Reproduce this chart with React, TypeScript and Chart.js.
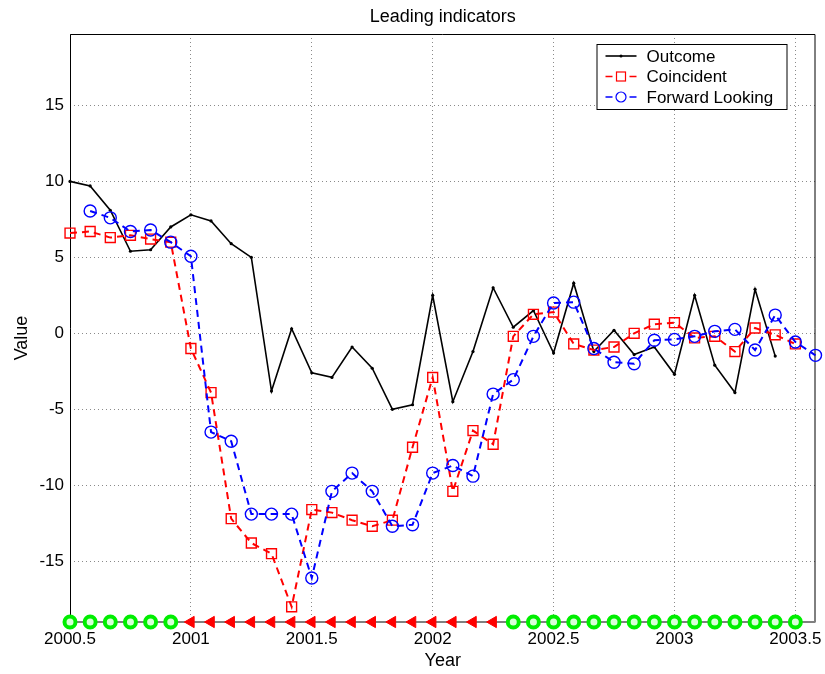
import React, { useEffect, useRef } from "react";
import { Chart, registerables } from "chart.js";

Chart.register(...registerables);

// ---- data ----
const START_YEAR = 2000.5; // first monthly observation
const MONTHS_PER_YEAR = 12;

const outcome = [
  10.0, 9.7, 8.1, 5.4, 5.5, 7.0, 7.8, 7.4, 5.9, 5.0, -3.8, 0.3, -2.6, -2.9, -0.9, -2.3,
  -5.0, -4.7, 2.5, -4.5, -1.2, 3.0, 0.4, 1.5, -1.3, 3.3, -1.2, 0.2, -1.4, -0.9, -2.7, 2.5,
  -2.1, -3.9, 2.9, -1.5,
];

const coincident = [
  6.6, 6.7, 6.3, 6.45, 6.2, 6.0, -1.0, -3.9, -12.2, -13.8, -14.5, -18.0, -11.6, -11.8, -12.3,
  -12.7, -12.3, -7.5, -2.9, -10.4, -6.4, -7.3, -0.2, 1.25, 1.4, -0.7, -1.1, -0.9, 0.0, 0.6, 0.7,
  -0.3, -0.2, -1.2, 0.35, -0.1, -0.7,
];

const forwardLooking = [
  null, 8.05, 7.6, 6.7, 6.8, 6.0, 5.07, -6.5, -7.1, -11.9, -11.9, -11.9, -16.1, -10.4, -9.2,
  -10.4, -12.7, -12.6, -9.2, -8.7, -9.4, -4.0, -3.05, -0.2, 2.0, 2.05, -1.0, -1.9, -2.0, -0.46,
  -0.4, -0.2, 0.13, 0.26, -1.1, 1.2, -0.57, -1.45,
];

// 1 = green circle (expansion), 0 = red triangle (contraction)
const regimeSignal = [
  1, 1, 1, 1, 1, 1,
  0, 0, 0, 0, 0, 0, 0, 0, 0, 0, 0, 0, 0, 0, 0, 0,
  1, 1, 1, 1, 1, 1, 1, 1, 1, 1, 1, 1, 1, 1, 1,
];
const SIGNAL_LEVEL = -19;

const xTicks = [2000.5, 2001, 2001.5, 2002, 2002.5, 2003, 2003.5];
const yTicks = [-15, -10, -5, 0, 5, 10, 15];
const X_MIN = 2000.5;
const X_MAX = 2003.5833;
const Y_MIN = -19;
const Y_MAX = 19.7;

const TITLE = "Leading indicators";
const X_LABEL = "Year";
const Y_LABEL = "Value";

const FONT = "'Liberation Sans', Arial, Helvetica, sans-serif";

const toPoints = (values: (number | null)[]) =>
  values
    .map((v, i) => (v === null ? null : { x: START_YEAR + i / MONTHS_PER_YEAR, y: v }))
    .filter((p) => p !== null) as { x: number; y: number }[];

const GREEN = "#00ee00";
const RED = "#ff0000";
const BLUE = "#0000ff";

const framePlugin = {
  id: "frame",
  beforeDatasetsDraw(chart: any) {
    const { ctx, chartArea: a } = chart;
    ctx.save();
    ctx.strokeStyle = "#000";
    ctx.lineWidth = 1;
    ctx.beginPath();
    ctx.moveTo(a.left + 0.5, a.bottom);
    ctx.lineTo(a.left + 0.5, a.top + 0.5);
    ctx.lineTo(a.right - 0.5, a.top + 0.5);
    ctx.lineTo(a.right - 0.5, a.bottom);
    ctx.stroke();
    ctx.strokeStyle = "#808080";
    ctx.lineWidth = 2;
    ctx.beginPath();
    ctx.moveTo(a.left, a.bottom);
    ctx.lineTo(a.right, a.bottom);
    ctx.stroke();
    ctx.restore();
  },
  afterDraw(chart: any) {
    const { ctx, chartArea: a } = chart;
    ctx.save();
    // title
    ctx.fillStyle = "#000";
    ctx.font = `18px ${FONT}`;
    ctx.textAlign = "center";
    ctx.textBaseline = "middle";
    ctx.fillText(TITLE, (a.left + a.right) / 2, 17);
    // x label
    ctx.fillText(X_LABEL, (a.left + a.right) / 2, 661);
    // y label
    ctx.save();
    ctx.translate(22, 338);
    ctx.rotate(-Math.PI / 2);
    ctx.fillText(Y_LABEL, 0, 0);
    ctx.restore();

    // legend
    const bx = a.right - 219;
    const by = a.top + 10;
    const bw = 190;
    const bh = 65;
    ctx.fillStyle = "#fff";
    ctx.fillRect(bx, by, bw, bh);
    ctx.strokeStyle = "#000";
    ctx.lineWidth = 1;
    ctx.strokeRect(bx + 0.5, by + 0.5, bw, bh);
    const ds = chart.data.datasets;
    const rows = [0, 1, 2];
    rows.forEach((di, r) => {
      const d = ds[di];
      const y = by + 12 + r * 20.5;
      const x0 = bx + 9;
      const x1 = bx + 40;
      ctx.strokeStyle = d.borderColor;
      ctx.lineWidth = d.legendLineWidth;
      ctx.setLineDash(d.borderDash || []);
      ctx.beginPath();
      ctx.moveTo(x0, y);
      ctx.lineTo(x1, y);
      ctx.stroke();
      ctx.setLineDash([]);
      const mx = (x0 + x1) / 2;
      ctx.lineWidth = 1.2;
      if (d.pointStyle === "rect") {
        ctx.fillStyle = "#fff";
        ctx.fillRect(mx - 4.5, y - 4.5, 9, 9);
        ctx.strokeRect(mx - 4.5, y - 4.5, 9, 9);
      } else if (d.pointStyle === "circle" && di === 2) {
        ctx.fillStyle = "#fff";
        ctx.beginPath();
        ctx.arc(mx, y, 5, 0, Math.PI * 2);
        ctx.fill();
        ctx.stroke();
      } else {
        ctx.fillStyle = d.borderColor;
        ctx.beginPath();
        ctx.arc(mx, y, 1.5, 0, Math.PI * 2);
        ctx.fill();
      }
      ctx.fillStyle = "#000";
      ctx.font = `17px ${FONT}`;
      ctx.textAlign = "left";
      ctx.textBaseline = "middle";
      ctx.fillText(d.label, bx + 50, y + 1);
    });
    ctx.restore();
  },
};

export default function App() {
  const ref = useRef<HTMLCanvasElement | null>(null);

  useEffect(() => {
    document.body.style.margin = "0";
    const canvas = ref.current;
    if (!canvas) return;

    const signalPoints = regimeSignal.map((s, i) => ({
      x: START_YEAR + i / MONTHS_PER_YEAR,
      y: SIGNAL_LEVEL,
    }));

    const chart = new Chart(canvas, {
      type: "scatter",
      data: {
        datasets: [
          {
            label: "Outcome",
            data: toPoints(outcome),
            showLine: true,
            borderColor: "#000",
            backgroundColor: "#000",
            borderWidth: 1.6,
            legendLineWidth: 1.6,
            pointStyle: "circle",
            pointRadius: 1.6,
            pointBorderWidth: 0,
            tension: 0,
            clip: false,
            order: 3,
          } as any,
          {
            label: "Coincident",
            data: toPoints(coincident),
            showLine: true,
            borderColor: RED,
            backgroundColor: "transparent",
            borderWidth: 2,
            legendLineWidth: 1.5,
            borderDash: [7, 5],
            pointStyle: "rect",
            pointRadius: 7,
            pointBorderWidth: 1.4,
            pointBorderColor: RED,
            pointBackgroundColor: "transparent",
            tension: 0,
            clip: false,
            order: 2,
          } as any,
          {
            label: "Forward Looking",
            data: toPoints(forwardLooking),
            showLine: true,
            borderColor: BLUE,
            backgroundColor: "transparent",
            borderWidth: 2,
            legendLineWidth: 1.5,
            borderDash: [7, 5],
            pointStyle: "circle",
            pointRadius: 6,
            pointBorderWidth: 1.4,
            pointBorderColor: BLUE,
            pointBackgroundColor: "transparent",
            tension: 0,
            clip: false,
            order: 1,
          } as any,
          {
            label: "Signal",
            data: signalPoints,
            showLine: false,
            pointStyle: regimeSignal.map((s) => (s ? "circle" : "triangle")),
            rotation: regimeSignal.map((s) => (s ? 0 : -90)),
            pointRadius: regimeSignal.map((s) => (s ? 5.5 : 6.5)),
            pointBorderWidth: regimeSignal.map((s) => (s ? 4 : 1)),
            pointBorderColor: regimeSignal.map((s) => (s ? GREEN : RED)),
            pointBackgroundColor: regimeSignal.map((s) => (s ? "#d8ffd8" : RED)),
            clip: false,
            order: 0,
          } as any,
        ],
      },
      options: {
        responsive: false,
        animation: false,
        layout: { padding: { top: 34, right: 9, left: 0, bottom: 0 } },
        plugins: {
          legend: { display: false },
          title: { display: false },
          tooltip: { enabled: false },
        },
        scales: {
          x: {
            type: "linear",
            min: X_MIN,
            max: X_MAX,
            afterBuildTicks: (scale: any) => {
              scale.ticks = xTicks.map((v) => ({ value: v }));
            },
            afterFit: (scale: any) => {
              scale.height = 52;
              scale.paddingLeft = 0;
              scale.paddingRight = 0;
            },
            grid: { color: "#8a8a8a", lineWidth: 1, drawTicks: false },
            border: { display: false, dash: [1, 3] },
            ticks: {
              padding: 7,
              color: "#000",
              font: { family: FONT, size: 17 },
              maxRotation: 0,
              autoSkip: false,
              callback: (v: any) => String(v),
            },
          },
          y: {
            type: "linear",
            min: Y_MIN,
            max: Y_MAX,
            afterBuildTicks: (scale: any) => {
              scale.ticks = yTicks.map((v) => ({ value: v }));
            },
            afterFit: (scale: any) => {
              scale.width = 70;
              scale.paddingTop = 0;
              scale.paddingBottom = 0;
            },
            grid: { color: "#8a8a8a", lineWidth: 1, drawTicks: false },
            border: { display: false, dash: [1, 3] },
            ticks: {
              padding: 6,
              color: "#000",
              font: { family: FONT, size: 17 },
              autoSkip: false,
              callback: (v: any) => String(v),
            },
          },
        },
      },
      plugins: [framePlugin],
    });

    return () => chart.destroy();
  }, []);

  return (
    <div style={{ width: 825, height: 674, background: "#fff" }}>
      <canvas ref={ref} width={825} height={674} style={{ display: "block" }} />
    </div>
  );
}
